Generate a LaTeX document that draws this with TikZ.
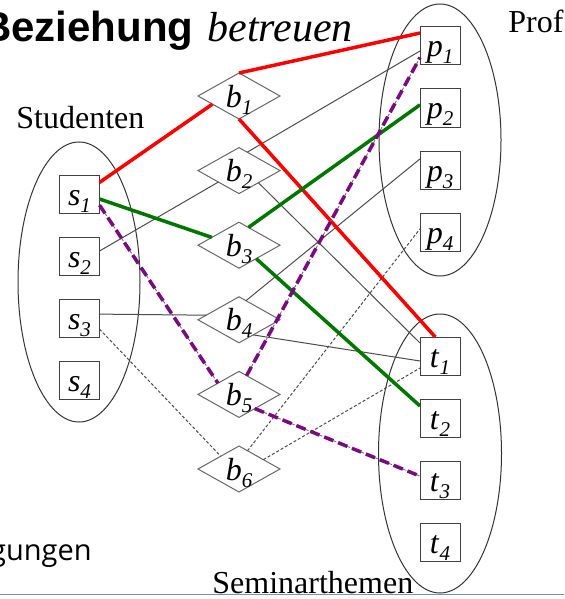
\documentclass[tikz,border=0pt]{standalone}
\usepackage{fontspec}
\setmainfont{Liberation Serif}
\newfontfamily\arialfont{Liberation Sans}
\newfontfamily\tahomafont{Open Sans}
\usetikzlibrary{positioning, shapes.geometric}
\definecolor{rcolor}{HTML}{FF0000}
\definecolor{gcolor}{HTML}{007800}
\definecolor{pcolor}{HTML}{7A0A82}
\definecolor{bcolor}{HTML}{6E93C6}
\newcommand{\elem}[2]{\textit{#1}\raisebox{-3.5pt}{\fontsize{10.5}{10.5}\selectfont\textit{#2}}}

\begin{document}
\begin{tikzpicture}[x=0.5pt, y=-0.5pt,
    box/.style={rectangle, draw=black!75, line width=0.5pt, minimum width=20pt, minimum height=19pt, inner sep=0pt, outer sep=0pt, font=\fontsize{16}{16}\selectfont, text height=11pt, text depth=0pt},
    rel/.style={diamond, aspect=1.78, draw=black!60, line width=0.5pt, minimum width=41pt, minimum height=23pt, inner sep=0pt, outer sep=0pt, font=\fontsize{16}{16}\selectfont, text height=11pt, text depth=0pt},
    grp/.style={ellipse, draw=black!80, line width=0.5pt, inner sep=0pt},
    lbl/.style={font=\fontsize{16}{16}\selectfont, inner sep=0pt},
    rline/.style={rcolor, line width=1.75pt},
    gline/.style={gcolor, line width=1.75pt},
    pline/.style={pcolor, line width=1.75pt, dash pattern=on 5pt off 2.5pt, preaction={draw=black!60, line width=0.4pt, dash pattern=on 1.5pt off 1pt}},
    tline/.style={black!70, line width=0.5pt},
    dline/.style={black!70, line width=0.5pt, dash pattern=on 1.5pt off 1pt},
  ]
    \useasboundingbox (0,0) rectangle (564,599);

    % Gruppen
    \node[grp, minimum width=61pt, minimum height=140pt] (studs) at (79,282) {};
    \node[grp, minimum width=61pt, minimum height=136pt] (profs) at (440,140) {};
    \node[grp, minimum width=61.5pt, minimum height=139.5pt] (themen) at (440,453.5) {};

    \node[anchor=base east, inner sep=0pt, font={\arialfont\bfseries\fontsize{21}{24}\selectfont}] (title) at (194,42) {Beziehung};
    \node[anchor=base west, inner sep=0pt, font={\itshape\fontsize{21}{24}\selectfont}] (titleit) at (207,42) {betreuen};
    \node[lbl, anchor=base west] (studlbl) at (16,128) {Studenten};
    \node[lbl, anchor=base west] (proflbl) at (508,33) {Prof};
    \node[anchor=base east, inner sep=0pt, font={\tahomafont\fontsize{14.5}{14.5}\selectfont}] (auslbl) at (92,560) {gungen};

    \draw[bcolor, line width=0.8pt] (0,594.5) -- (564,594.5);
    \node[lbl, anchor=base west] (themlbl) at (212,593) {Seminarthemen};

    % Studenten
    \node[box] (s1) at (79.5,194) {\elem{s}{1}};
    \node[box, below=12pt of s1] (s2) {\elem{s}{2}};
    \node[box, below=12pt of s2] (s3) {\elem{s}{3}};
    \node[box, below=12pt of s3] (s4) {\elem{s}{4}};

    % Profs
    \node[box] (p1) at (440,46) {\elem{p}{1}};
    \node[box, below=12pt of p1] (p2) {\elem{p}{2}};
    \node[box, below=12pt of p2] (p3) {\elem{p}{3}};
    \node[box, below=12pt of p3] (p4) {\elem{p}{4}};

    % Seminarthemen
    \node[box] (t1) at (440,356) {\elem{t}{1}};
    \node[box, below=12pt of t1] (t2) {\elem{t}{2}};
    \node[box, below=12pt of t2] (t3) {\elem{t}{3}};
    \node[box, below=12pt of t3] (t4) {\elem{t}{4}};

    % Beziehungen
    \node[rel] (b1) at (239,96) {\elem{b}{1}};
    \node[rel, below=14.3pt of b1] (b2) {\elem{b}{2}};
    \node[rel, below=14.3pt of b2] (b3) {\elem{b}{3}};
    \node[rel, below=14.3pt of b3] (b4) {\elem{b}{4}};
    \node[rel, below=14.3pt of b4] (b5) {\elem{b}{5}};
    \node[rel, below=14.3pt of b5] (b6) {\elem{b}{6}};

    \draw[tline] (s2.14) -- (b2.209);
    \draw[tline] (b2.66) -- (p1.194);
    \draw[tline] (b2.328) -- (t1.147);
    \draw[tline] (s3.11) -- (b4.172);
    \draw[tline] (b4.70) -- (p3.151);
    \draw[tline] (b4.313) -- (t1.194);
    \draw[dline] (s3.331) -- (b6.145);
    \draw[dline] (b6.65) -- (p4.171);
    \draw[dline] (b6.21) -- (t1.211);

    \draw[rline] (s1.30) -- (b1.197);
    \draw[rline] (b1.north) -- (p1.147);
    \draw[rline] (b1.south) -- (t1.104);
    \draw[gline] (s1.346) -- (b3.164);
    \draw[gline] (b3.62) -- (p2.171);
    \draw[gline] (b3.322) -- (t2.149);
    \draw[pline] (s1.331) -- (b5.152);
    \draw[pline] (b5.68) -- (p1.210);
    \draw[pline] (b5.318) -- (t3.169);
  \end{tikzpicture}
\end{document}
